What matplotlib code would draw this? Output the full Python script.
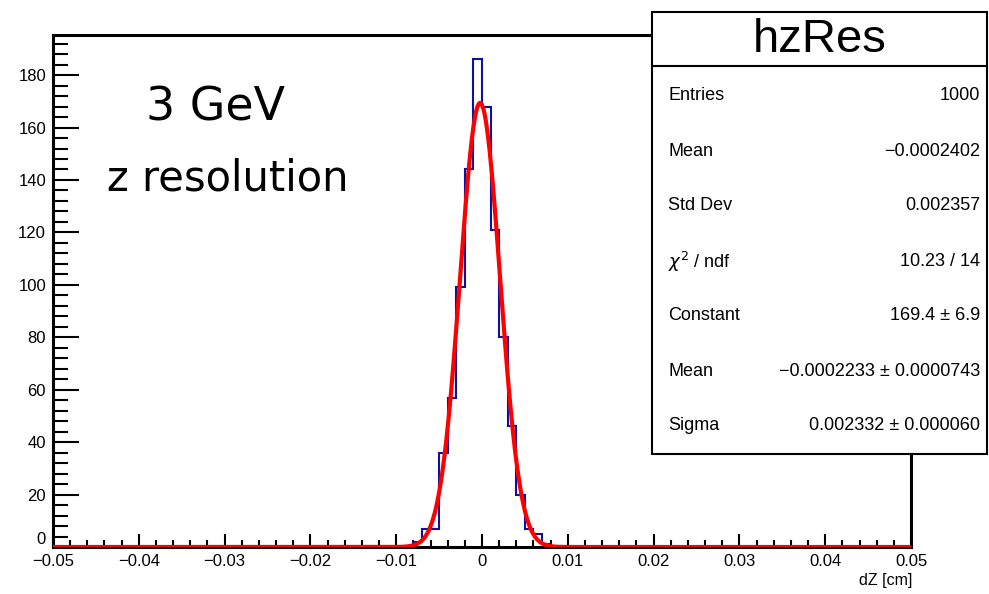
import numpy as np
import matplotlib
matplotlib.use("Agg")
import matplotlib.pyplot as plt
from matplotlib.patches import Rectangle
from matplotlib.lines import Line2D
from matplotlib.ticker import MultipleLocator, FuncFormatter

# ---- data ----
bin_lo = -0.05
bin_hi = 0.05
n_bins = 100
# non-empty bins: (left edge, count)
nz_edges = [-0.008, -0.007, -0.006, -0.005, -0.004, -0.003, -0.002, -0.001,
            0.000, 0.001, 0.002, 0.003, 0.004, 0.005, 0.006, 0.007]
nz_counts = [2, 7, 7, 36, 57, 99, 144, 186,
             168, 121, 80, 46, 20, 7, 5, 1]

fit_constant = 169.4
fit_mean = -0.0002233
fit_sigma = 0.002332

stats_title = "hzRes"
stats_labels = ["Entries", "Mean", "Std Dev", r"$\chi^2$ / ndf", "Constant", "Mean", "Sigma"]
stats_values = ["1000", "\u22120.0002402", "0.002357", "10.23 / 14", "169.4 \u00b1 6.9",
                "\u22120.0002233 \u00b1 0.0000743", "0.002332 \u00b1 0.000060"]

# ---- build histogram ----
edges = np.linspace(bin_lo, bin_hi, n_bins + 1)
counts = np.zeros(n_bins)
for e, c in zip(nz_edges, nz_counts):
    idx = int(round((e - bin_lo) / (edges[1] - edges[0])))
    counts[idx] = c

W, H = 989, 594
fig = plt.figure(figsize=(W / 100, H / 100), dpi=100)
ax = fig.add_axes([53 / W, 1 - 547 / H, (911 - 53) / W, (547 - 35) / H])

ax.stairs(counts, edges, color="#1010a0", lw=1.5, zorder=3)
xf = np.linspace(bin_lo, bin_hi, 1001)
yf = fit_constant * np.exp(-0.5 * ((xf - fit_mean) / fit_sigma) ** 2)
ax.plot(xf, yf, color="#ff0000", lw=3.0, zorder=4, solid_joinstyle="round")

ax.set_xlim(bin_lo, bin_hi)
ax.set_ylim(0, 1.05 * max(nz_counts))

root_font = "Liberation Sans"
ax.xaxis.set_major_locator(MultipleLocator(0.01))
ax.xaxis.set_minor_locator(MultipleLocator(0.002))
ax.yaxis.set_major_locator(MultipleLocator(20))
ax.yaxis.set_minor_locator(MultipleLocator(4))

def xfmt(v, pos):
    if abs(v) < 1e-9:
        return "0"
    s = f"{abs(v):.2f}"
    return ("\u2212" if v < 0 else "") + s

ax.xaxis.set_major_formatter(FuncFormatter(xfmt))
ax.yaxis.set_major_formatter(FuncFormatter(lambda v, p: f"{int(round(v))}"))

ax.tick_params(axis="x", which="major", direction="in", length=9.5, width=1.5,
               top=False, labelsize=12, pad=5)
ax.tick_params(axis="x", which="minor", direction="in", length=5, width=1.5, top=False)
ax.tick_params(axis="y", which="major", direction="in", length=19, width=1.5,
               right=False, labelsize=12, pad=5)
ax.tick_params(axis="y", which="minor", direction="in", length=11, width=1.5, right=False)
for lab in ax.get_xticklabels() + ax.get_yticklabels():
    lab.set_fontfamily(root_font)
# lift the y "0" label a little, as in the reference where it sits above -0.05
for lab in ax.get_yticklabels():
    if lab.get_text() == "0":
        lab.set_verticalalignment("bottom")

for sp in ax.spines.values():
    sp.set_linewidth(2.2)

fig.text(912 / W, 1 - 580 / H, "dZ [cm]", ha="right", va="center",
         fontsize=11.5, family=root_font)

fig.text(216 / W, 1 - 108 / H, "3 GeV", ha="center", va="center",
         fontsize=33, family="DejaVu Sans")
fig.text(228 / W, 1 - 178 / H, "z resolution", ha="center", va="center",
         fontsize=30, family="DejaVu Sans")

# ---- stats box ----
bx0, bx1, by0, by1 = 652, 987, 12, 454
fig.patches.append(Rectangle((bx0 / W, 1 - by1 / H), (bx1 - bx0) / W, (by1 - by0) / H,
                             transform=fig.transFigure, facecolor="white",
                             edgecolor="black", lw=1.5, zorder=10))
fig.lines.append(Line2D([bx0 / W, bx1 / W], [1 - 66 / H, 1 - 66 / H],
                        transform=fig.transFigure, color="black", lw=1.5, zorder=11))
fig.text((bx0 + bx1) / 2 / W, 1 - 40 / H, stats_title, ha="center", va="center",
         fontsize=34, family=root_font, zorder=12)
row_y = [95, 151, 205, 262, 316, 371, 426]
for yy, lab, val in zip(row_y, stats_labels, stats_values):
    fig.text(668 / W, 1 - yy / H, lab, ha="left", va="center", fontsize=13,
             family=root_font, zorder=12)
    fig.text(980 / W, 1 - yy / H, val, ha="right", va="center", fontsize=13,
             family=root_font, zorder=12)

fig.savefig("out.png", dpi=100)
